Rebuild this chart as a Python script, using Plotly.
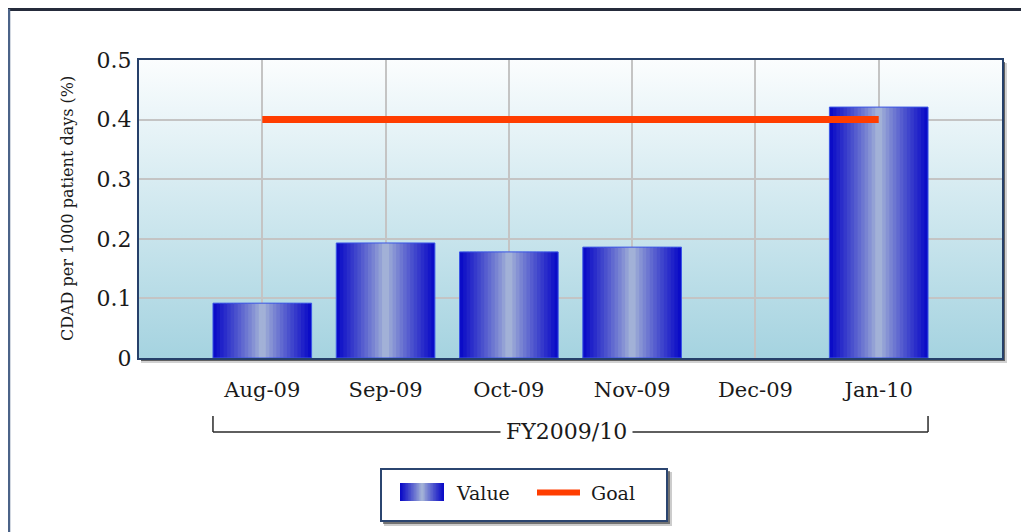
import base64
import plotly.graph_objects as go

# ---------------- data ----------------
months = ["Aug-09", "Sep-09", "Oct-09", "Nov-09", "Dec-09", "Jan-10"]
values = [0.092, 0.193, 0.178, 0.186, None, 0.421]
goal = [0.4, 0.4, 0.4, 0.4, 0.4, 0.4]
group_label = "FY2009/10"
y_title = "CDAD per 1000 patient days (%)"
y_ticks = [0, 0.1, 0.2, 0.3, 0.4, 0.5]
y_ticklabels = ["0", "0.1", "0.2", "0.3", "0.4", "0.5"]

# ---------------- layout geometry (screen pixels -> paper) ----------------
W, H = 1029, 532
OFF = 8  # page body margin
L, T, R, B = 139, 60, 1002, 358


def px(x):
    return (x - L) / (R - L)


def py(y):
    return (B - y) / (B - T)


def lerp(c1, c2, t):
    return "rgb(%d,%d,%d)" % tuple(round(a + (b - a) * t) for a, b in zip(c1, c2))


EDGE = (6, 6, 198)
CENTER = (172, 188, 216)
N_STRIPS = 28
BAR_W = 0.8
sw = BAR_W / N_STRIPS
strip_colors = []
for i in range(N_STRIPS):
    t = (i + 0.5) / N_STRIPS
    d = abs(t - 0.5) * 2
    strip_colors.append(lerp(CENTER, EDGE, d ** 0.85))

fig = go.Figure()

# gradient bars as vertical strips
for i, col in enumerate(strip_colors):
    off = -BAR_W / 2 + i * sw
    width = min(sw * 1.7, BAR_W / 2 - off)
    fig.add_trace(go.Bar(
        x=months, y=values, offset=off, width=width,
        marker=dict(color=col, line=dict(width=0)),
        showlegend=False, hoverinfo="skip",
    ))
# thin bar outline
fig.add_trace(go.Bar(
    x=months, y=values, offset=-BAR_W / 2, width=BAR_W,
    marker=dict(color="rgba(0,0,0,0)", line=dict(color="#3a55e6", width=1)),
    showlegend=False, name="Value",
))

# goal line
fig.add_trace(go.Scatter(
    x=months, y=goal, mode="lines", name="Goal",
    line=dict(color="#ff3d00", width=7), showlegend=False,
))

# plot background gradient as svg image
svg = ('<svg xmlns="http://www.w3.org/2000/svg" width="100" height="100" preserveAspectRatio="none">'
       '<defs><linearGradient id="g" x1="0" y1="0" x2="0" y2="1">'
       '<stop offset="0" stop-color="#fbfdfe"/><stop offset="1" stop-color="#a5d3e0"/>'
       '</linearGradient></defs><rect width="100" height="100" fill="url(#g)"/></svg>')
bg_src = "data:image/svg+xml;base64," + base64.b64encode(svg.encode()).decode()

shapes = []
# plot area shadow
shapes.append(dict(type="rect", xref="paper", yref="paper", layer="below",
                   x0=px(L + 2), x1=px(R + 5), y0=py(B + 5), y1=py(T + 3),
                   fillcolor="rgba(0,0,0,0.18)", line=dict(width=0)))
shapes.append(dict(type="rect", xref="paper", yref="paper", layer="below",
                   x0=px(L + 2), x1=px(R + 3), y0=py(B + 3), y1=py(T + 2),
                   fillcolor="rgba(20,20,20,0.6)", line=dict(width=0)))

# outer frame
shapes.append(dict(type="line", xref="paper", yref="paper",
                   x0=px(8), x1=px(W + 2), y0=py(9.5), y1=py(9.5),
                   line=dict(color="#252b3b", width=3)))
shapes.append(dict(type="line", xref="paper", yref="paper",
                   x0=px(9), x1=px(9), y0=py(9), y1=py(H + 2),
                   line=dict(color="#4b6388", width=2.5)))

# group bracket
br = dict(color="#2a2a2a", width=1.5)
x_left, x_right = -BAR_W / 2, len(months) - 1 + BAR_W / 2
shapes.append(dict(type="line", xref="x", yref="paper", x0=x_left, x1=x_left,
                   y0=py(416), y1=py(432), line=br))
shapes.append(dict(type="line", xref="x", yref="paper", x0=x_right, x1=x_right,
                   y0=py(416), y1=py(432), line=br))
shapes.append(dict(type="line", xref="x", yref="paper", x0=x_left, x1=x_right,
                   y0=py(432), y1=py(432), line=br))

# manual legend box
LX0, LX1, LY0, LY1 = 381, 667, 469, 521
shapes.append(dict(type="rect", xref="paper", yref="paper",
                   x0=px(LX0 + 3), x1=px(LX1 + 5), y0=py(LY1 + 5), y1=py(LY0 + 3),
                   fillcolor="rgba(0,0,0,0.2)", line=dict(width=0)))
shapes.append(dict(type="rect", xref="paper", yref="paper",
                   x0=px(LX0 + 2), x1=px(LX1 + 3), y0=py(LY1 + 3), y1=py(LY0 + 2),
                   fillcolor="rgba(40,40,40,0.55)", line=dict(width=0)))
shapes.append(dict(type="rect", xref="paper", yref="paper",
                   x0=px(LX0), x1=px(LX1), y0=py(LY1), y1=py(LY0),
                   fillcolor="white", line=dict(color="#2b4570", width=2)))
# value swatch (gradient)
SX0, SX1, SY0, SY1 = 400, 444, 483, 501
sww = (SX1 - SX0) / N_STRIPS
for i, col in enumerate(strip_colors):
    shapes.append(dict(type="rect", xref="paper", yref="paper",
                       x0=px(SX0 + i * sww), x1=px(min(SX0 + (i + 1.6) * sww, SX1)),
                       y0=py(SY1), y1=py(SY0), fillcolor=col, line=dict(width=0)))
# goal swatch
shapes.append(dict(type="line", xref="paper", yref="paper",
                   x0=px(537), x1=px(580), y0=py(492.5), y1=py(492.5),
                   line=dict(color="#ff3d00", width=6)))

annotations = [
    dict(text=y_title, xref="paper", yref="paper", x=px(67), y=py((T + B) / 2),
         textangle=-90, showarrow=False, xanchor="center", yanchor="middle",
         font=dict(family="DejaVu Serif", size=16, color="#1a1a1a")),
    dict(text=group_label, xref="x", yref="paper", x=(x_left + x_right) / 2 - 0.03, y=py(431),
         showarrow=False, xanchor="center", yanchor="middle", bgcolor="white",
         borderpad=5, font=dict(family="DejaVu Serif", size=22, color="#1a1a1a")),
    dict(text="Value", xref="paper", yref="paper", x=px(454), y=py(493),
         showarrow=False, xanchor="left", yanchor="middle",
         font=dict(family="DejaVu Serif", size=19, color="#1a1a1a")),
    dict(text="Goal", xref="paper", yref="paper", x=px(589), y=py(493),
         showarrow=False, xanchor="left", yanchor="middle",
         font=dict(family="DejaVu Serif", size=19, color="#1a1a1a")),
]

fig.update_layout(
    width=W - OFF, height=H - OFF,
    margin=dict(l=L - OFF, r=W - R, t=T - OFF, b=H - B, pad=0),
    paper_bgcolor="white", plot_bgcolor="rgba(0,0,0,0)",
    barmode="overlay", bargap=0.2,
    shapes=shapes, annotations=annotations,
    images=[dict(source=bg_src, xref="x domain", yref="y domain", x=0, y=1,
                 sizex=1, sizey=1, xanchor="left", yanchor="top",
                 sizing="stretch", layer="below")],
    showlegend=False,
    xaxis=dict(
        type="category", range=[-1, len(months)],
        showgrid=True, gridcolor="#c4c4c4", gridwidth=1.5,
        showline=True, linecolor="#26406a", linewidth=2, mirror=True,
        ticks="", ticklabelstandoff=12,
        tickfont=dict(family="DejaVu Serif", size=21, color="#1a1a1a"),
        fixedrange=True,
    ),
    yaxis=dict(
        range=[0, 0.5], tickvals=y_ticks, ticktext=y_ticklabels,
        showgrid=True, gridcolor="#c4c4c4", gridwidth=1.5, zeroline=False,
        showline=True, linecolor="#26406a", linewidth=2, mirror=True,
        ticks="", ticklabelstandoff=1,
        tickfont=dict(family="DejaVu Serif", size=22, color="#1a1a1a"),
        fixedrange=True,
    ),
)

fig.write_html("out.html")
